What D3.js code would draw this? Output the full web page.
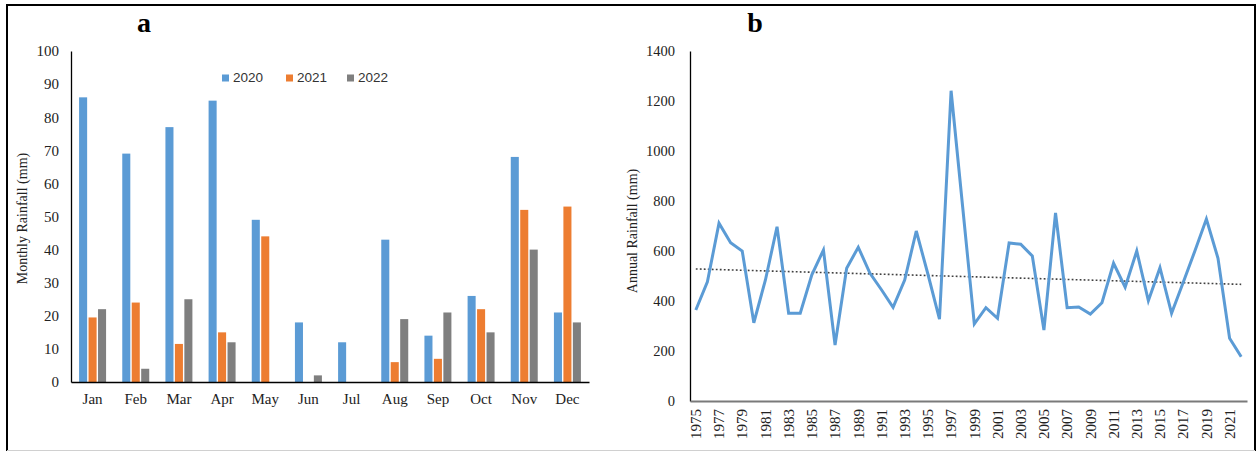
<!DOCTYPE html>
<html>
<head>
<meta charset="utf-8">
<script src="https://cdn.jsdelivr.net/npm/d3@7"></script>
<style>
  html, body { margin: 0; padding: 0; background: #fff; }
  svg { display: block; }
</style>
</head>
<body>
<svg id="chart" width="1257" height="452"></svg>
<script>
// ---------- Data ----------
const months = ["Jan","Feb","Mar","Apr","May","Jun","Jul","Aug","Sep","Oct","Nov","Dec"];
const seriesNames = ["2020","2021","2022"];
const rain2020 = [86, 69, 77, 85, 49, 18, 12, 43, 14, 26, 68, 21];
const rain2021 = [19.5, 24, 11.5, 15, 44, 0, 0, 6, 7, 22, 52, 53];
const rain2022 = [22, 4, 25, 12, 0, 2, 0, 19, 21, 15, 40, 18];
const monthlyTicks = [0,10,20,30,40,50,60,70,80,90,100];

const years = d3.range(1975, 2023);
const annualRain = [364, 477, 711, 633, 600, 313, 484, 697, 351, 351,
                    505, 604, 224, 531, 615, 512, 445, 375, 484, 680,
                    508, 327, 1241, 775, 308, 373, 331, 632, 627, 580,
                    284, 752, 373, 376, 348, 393, 551, 455, 600, 401,
                    533, 351, 474, 599, 728, 571, 251, 177];
const annualTicks = [0,200,400,600,800,1000,1200,1400];

const colors = ["#5B9BD5", "#ED7D31", "#7F7F7F"];
const serif = "'Liberation Serif', 'Times New Roman', serif";
const sans = "'Liberation Sans', Arial, sans-serif";

const svg = d3.select("#chart");

// outer frame
svg.append("line").attr("x1",7).attr("y1",5).attr("x2",1255).attr("y2",5).attr("stroke","#000").attr("stroke-width",2);
svg.append("line").attr("x1",7).attr("y1",4).attr("x2",7).attr("y2",451).attr("stroke","#000").attr("stroke-width",2);
svg.append("line").attr("x1",1255).attr("y1",4).attr("x2",1255).attr("y2",451).attr("stroke","#000").attr("stroke-width",2);
svg.append("line").attr("x1",7).attr("y1",450.5).attr("x2",1255).attr("y2",450.5).attr("stroke","#d0d0d0").attr("stroke-width",1);

// ---------- Panel a ----------
const A = {left: 71, right: 589, top: 51, bottom: 382};
const x0 = d3.scaleBand().domain(months).range([A.left, A.right]).paddingInner(0.375).paddingOuter(0.1875);
const x1 = d3.scaleBand().domain(seriesNames).range([0, x0.bandwidth()]).paddingInner(0.15);
const yA = d3.scaleLinear().domain([0,100]).range([A.bottom, A.top]);

const seriesData = [rain2020, rain2021, rain2022];
const gA = svg.append("g");
seriesNames.forEach((s, si) => {
  gA.append("g").selectAll("rect").data(months).join("rect")
    .attr("x", m => x0(m) + x1(s))
    .attr("y", (m, i) => yA(seriesData[si][i]))
    .attr("width", x1.bandwidth())
    .attr("height", (m, i) => yA(0) - yA(seriesData[si][i]))
    .attr("fill", colors[si]);
});

const yAxisA = d3.axisLeft(yA).tickValues(monthlyTicks).tickFormat(d3.format("d")).tickSize(0).tickPadding(12);
gA.append("g").attr("transform", `translate(${A.left},0)`).call(yAxisA)
  .call(g => g.select(".domain").attr("stroke","#000").attr("stroke-width",1.3))
  .call(g => g.selectAll("text").attr("font-family", serif).attr("font-size", 15).attr("fill","#222"));

const xAxisA = d3.axisBottom(x0).tickSize(0).tickPadding(11);
gA.append("g").attr("transform", `translate(0,${A.bottom})`).call(xAxisA)
  .call(g => g.select(".domain").attr("stroke","#000").attr("stroke-width",1.3))
  .call(g => g.selectAll("text").attr("font-family", serif).attr("font-size", 15).attr("fill","#222"));

gA.append("text").attr("transform", `translate(24,${(A.top + A.bottom)/2 + 2}) rotate(-90)`)
  .attr("text-anchor","middle").attr("dominant-baseline","middle")
  .attr("font-family", serif).attr("font-size", 14).attr("fill","#222")
  .text("Monthly Rainfall (mm)");

gA.append("text").attr("x", 144).attr("y", 32).attr("text-anchor","middle")
  .attr("font-family", serif).attr("font-weight","bold").attr("font-size", 28).text("a");

// legend
const legendX = [222, 286, 347];
const leg = gA.append("g").selectAll("g").data(seriesNames).join("g")
  .attr("transform", (d,i) => `translate(${legendX[i]},78)`);
leg.append("rect").attr("x",0).attr("y",-3.5).attr("width",7).attr("height",7).attr("fill",(d,i)=>colors[i]);
leg.append("text").attr("x",11).attr("y",0).attr("dominant-baseline","middle")
  .attr("font-family", sans).attr("font-size", 13.5).attr("fill","#333").text(d => d);

// ---------- Panel b ----------
const B = {left: 690, right: 1247, top: 51, bottom: 401};
const xB = d3.scaleBand().domain(years).range([B.left, B.right]).padding(0);
const yB = d3.scaleLinear().domain([0,1400]).range([B.bottom, B.top]);
const cx = yr => xB(yr) + xB.bandwidth()/2;
const gB = svg.append("g");

const yAxisB = d3.axisLeft(yB).tickValues(annualTicks).tickFormat(d3.format("d")).tickSize(0).tickPadding(15);
gB.append("g").attr("transform", `translate(${B.left},0)`).call(yAxisB)
  .call(g => g.select(".domain").attr("stroke","#000").attr("stroke-width",1.3))
  .call(g => g.selectAll("text").attr("font-family", serif).attr("font-size", 14.5).attr("fill","#222"));

const xAxisB = d3.axisBottom(xB).tickValues(years.filter(y => (y - 1975) % 2 === 0)).tickFormat(d3.format("d")).tickSize(0).tickPadding(6);
gB.append("g").attr("transform", `translate(0,${B.bottom})`).call(xAxisB)
  .call(g => g.select(".domain").attr("stroke","#7a7a7a").attr("stroke-width",2))
  .call(g => g.selectAll("text")
      .attr("font-family", serif).attr("font-size", 15).attr("fill","#222")
      .attr("transform","rotate(-90)")
      .attr("text-anchor","end").attr("dy","0.35em").attr("x",-8).attr("y",0));

// trend (least squares)
const n = years.length;
const mx = d3.mean(years), my = d3.mean(annualRain);
const slope = d3.sum(years, (yr,i) => (yr-mx)*(annualRain[i]-my)) / d3.sum(years, yr => (yr-mx)*(yr-mx));
const icpt = my - slope*mx;
gB.append("line")
  .attr("x1", cx(years[0])).attr("y1", yB(icpt + slope*years[0]))
  .attr("x2", cx(years[n-1])).attr("y2", yB(icpt + slope*years[n-1]))
  .attr("stroke","#404040").attr("stroke-width",1.6).attr("stroke-dasharray","1.8,2.2");

const line = d3.line().x((d,i) => cx(years[i])).y(d => yB(d));
gB.append("path").datum(annualRain).attr("d", line)
  .attr("fill","none").attr("stroke","#5B9BD5").attr("stroke-width",3).attr("stroke-linejoin","miter");

gB.append("text").attr("transform", `translate(634,${(B.top + B.bottom)/2 + 5}) rotate(-90)`)
  .attr("text-anchor","middle").attr("dominant-baseline","middle")
  .attr("font-family", serif).attr("font-size", 14).attr("fill","#222")
  .text("Annual Rainfall (mm)");

gB.append("text").attr("x", 755).attr("y", 32).attr("text-anchor","middle")
  .attr("font-family", serif).attr("font-weight","bold").attr("font-size", 28).text("b");
</script>
</body>
</html>
